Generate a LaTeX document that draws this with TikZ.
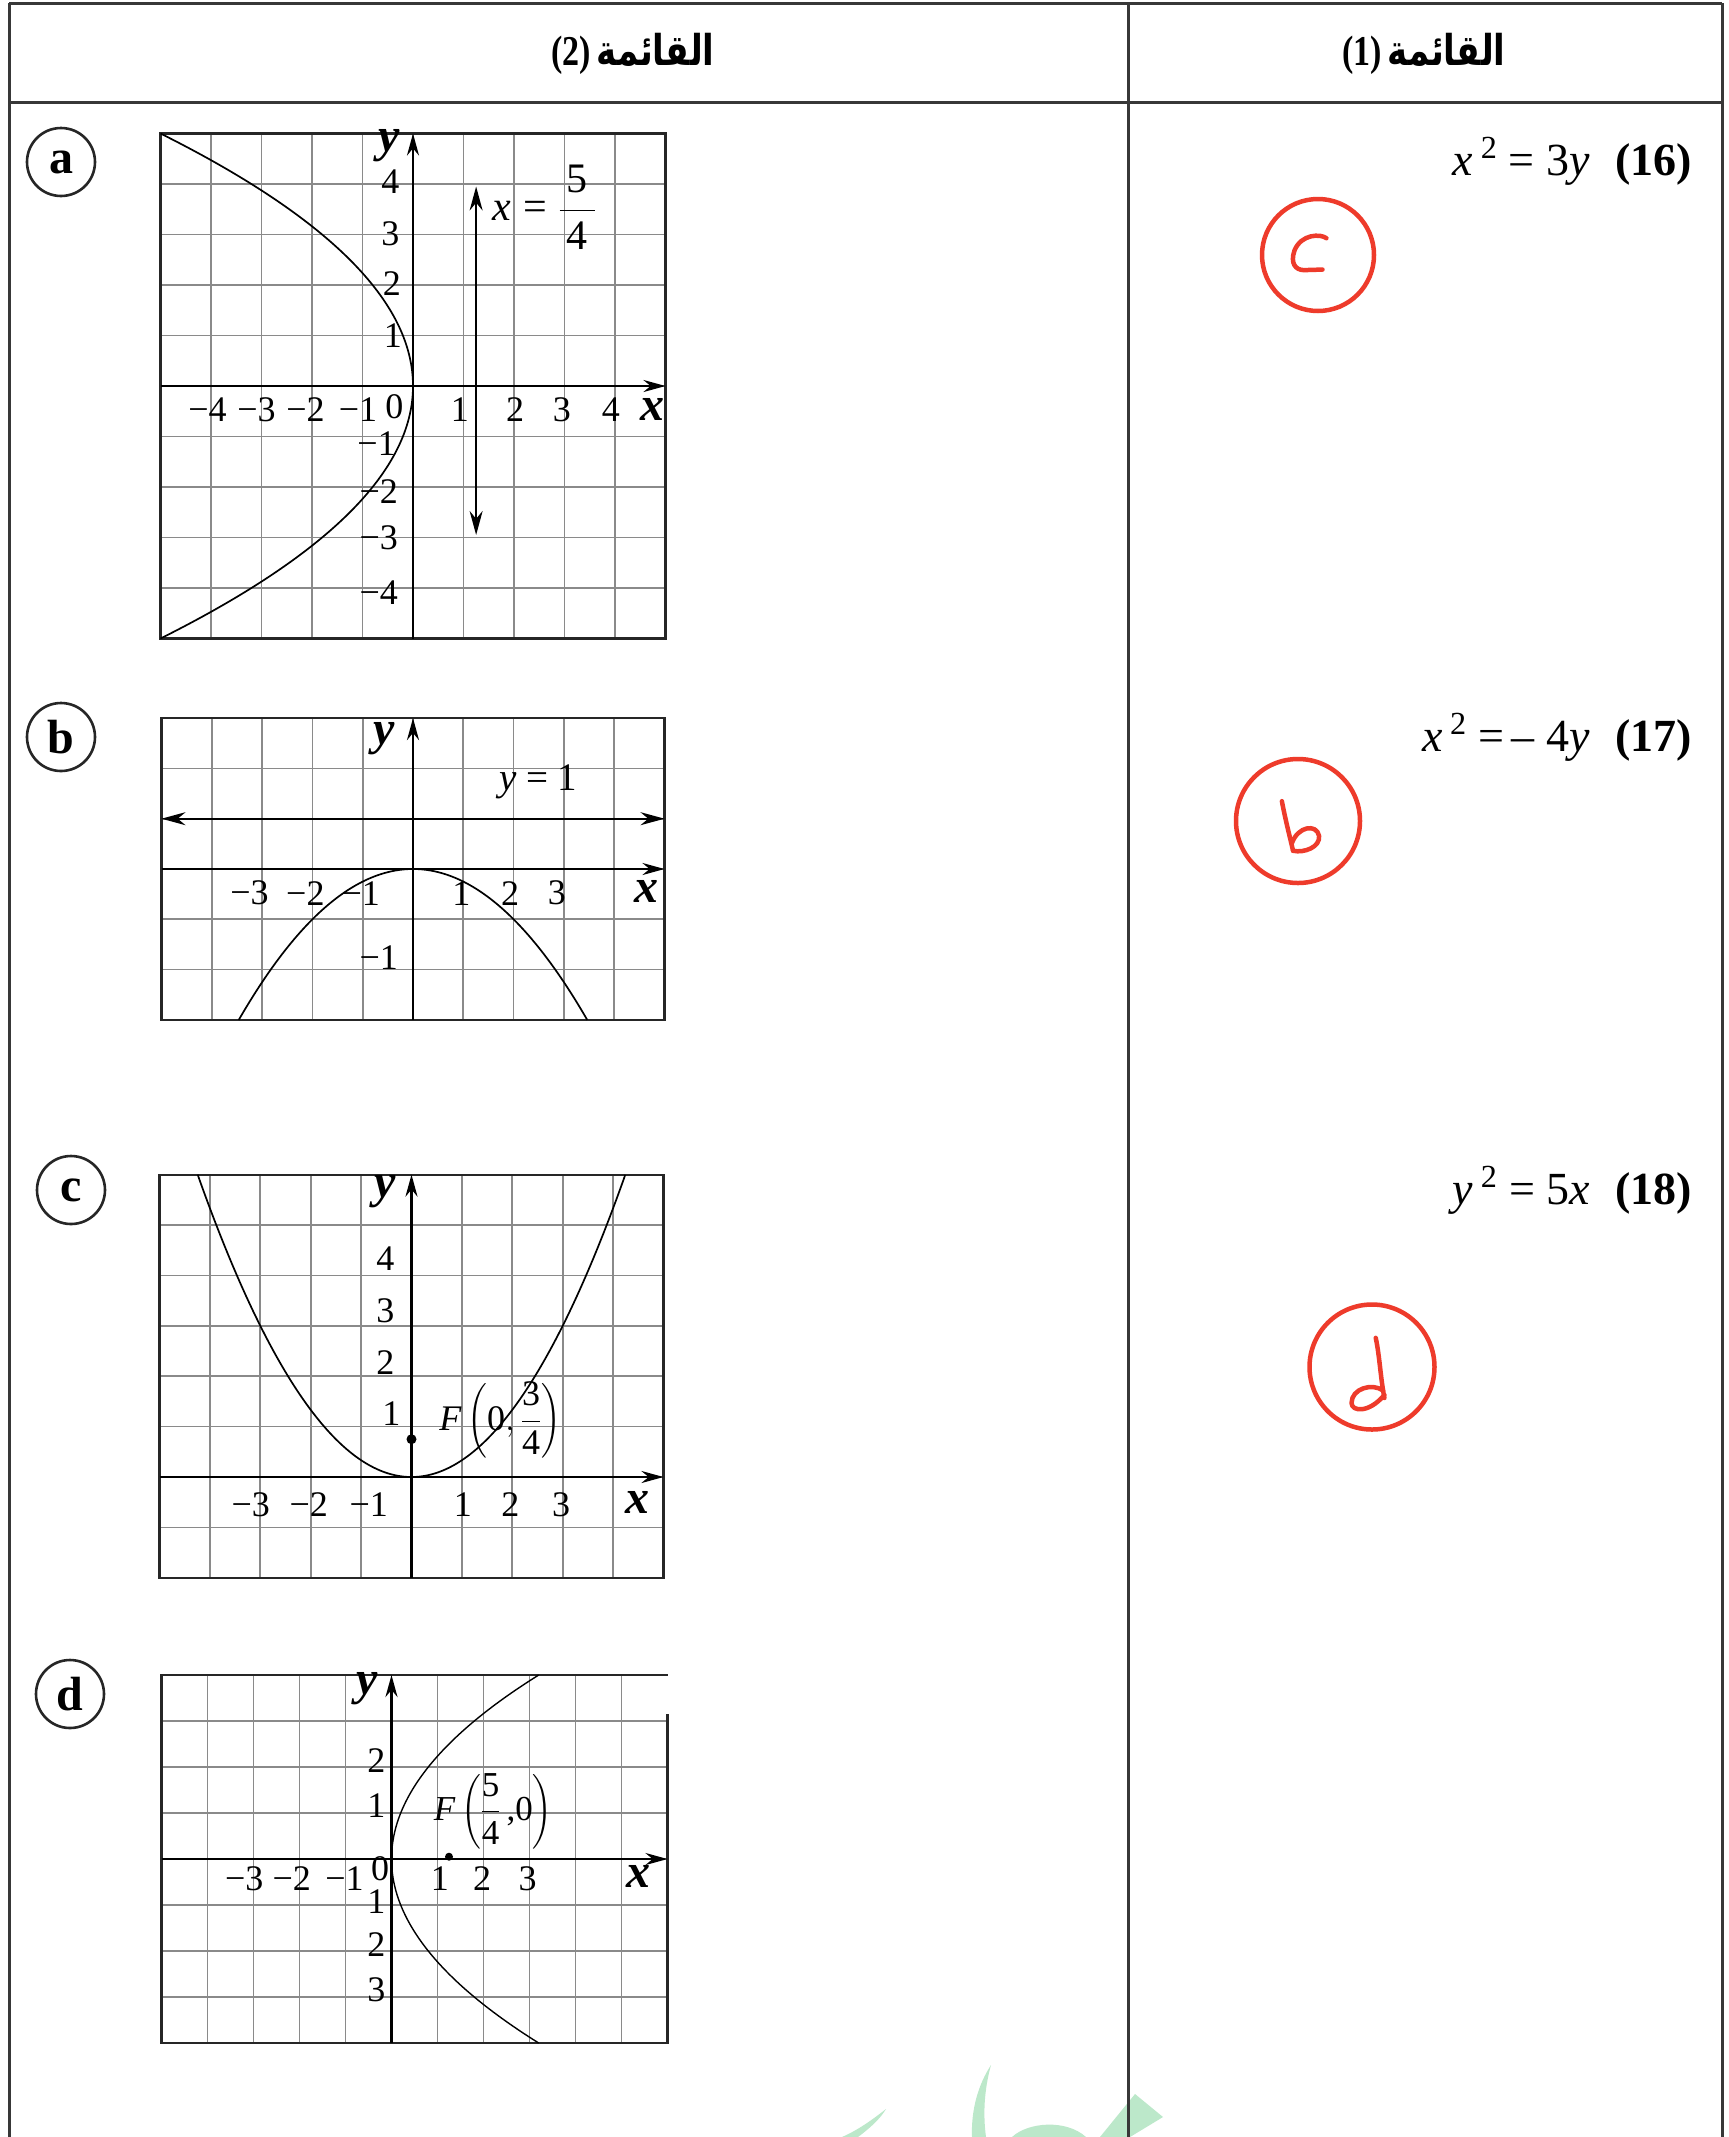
\RequirePackage{fix-cm}
\documentclass[tikz,border=0pt]{standalone}
\usepackage{amsmath}
\usepackage{graphicx}
\usepackage{fontspec}
\setmainfont{Liberation Serif}
\newfontfamily\arabicfont[Script=Arabic]{DejaVu Sans}
\TeXXeTstate=1
\usetikzlibrary{arrows.meta}
\definecolor{gridgray}{HTML}{8A8A8A}
\definecolor{redpen}{HTML}{EE3B2B}
\definecolor{wmgreen}{HTML}{BCE8CA}
\newcommand{\fr}[2]{$\genfrac{}{}{}{0}{\text{\,#1\,}}{\text{\,#2\,}}$}
\tikzset{
  tablerule/.style={line width=3pt, draw=black!78},
  gridline/.style={line width=1.7pt, draw=gridgray},
  gridborder/.style={line width=2.2pt, draw=black!85},
  axisline/.style={line width=2.6pt, draw=black, -{Stealth[length=22pt,width=12pt]}},
  curveline/.style={line width=1.7pt, draw=black},
  ticklab/.style={font=\fontsize{36}{40}\selectfont, inner sep=0pt},
  axislab/.style={font=\fontsize{48}{52}\selectfont\bfseries\itshape, inner sep=0pt},
  itemcircle/.style={circle, draw=black!85, line width=2.6pt, minimum size=68pt, inner sep=0pt, font=\fontsize{48}{52}\selectfont\bfseries},
  eqlab/.style={font=\fontsize{46}{50}\selectfont, anchor=east, inner sep=0pt},
  headlab/.style={font=\fontsize{34}{40}\selectfont\bfseries, inner sep=0pt},
  redring/.style={circle, draw=redpen, line width=4.5pt, inner sep=0pt},
  pen/.style={draw=redpen, line width=4.5pt, line cap=round, line join=round},
  dirarrow/.style={line width=2pt, {Stealth[length=24pt,width=13pt]}-{Stealth[length=24pt,width=13pt]}},
  focusdot/.style={circle, fill=black, inner sep=0pt, minimum size=10pt},
}
\begin{document}
\begin{tikzpicture}[x=1pt,y=1pt]
\useasboundingbox (0,-2137) rectangle (1729,0);
\fill[white] (0,-2137) rectangle (1729,0);

% ---------- watermark ----------
\fill[wmgreen] (886,-2109) .. controls (872,-2120) and (858,-2130) .. (842,-2137) -- (858,-2137) .. controls (870,-2128) and (880,-2119) .. (886,-2109) -- cycle;
\fill[wmgreen] (991,-2065) .. controls (984,-2090) and (983,-2115) .. (986,-2137) -- (972,-2137) .. controls (971,-2110) and (978,-2085) .. (991,-2065) -- cycle;
\fill[wmgreen] (1012,-2137) .. controls (1028,-2122) and (1066,-2119) .. (1086,-2137) -- cycle;
\fill[wmgreen] (1135,-2094) -- (1163,-2117) -- (1130,-2137) -- (1100,-2137) -- cycle;

% ---------- table ----------
\draw[tablerule] (9,-3) -- (1722,-3);
\draw[tablerule] (9,-102) -- (1722,-102);
\draw[tablerule] (9,-3) -- (9,-2137);
\draw[tablerule] (1128,-3) -- (1128,-2137);
\draw[tablerule] (1722,-3) -- (1722,-2137);

\node[headlab] (head2) at (633,-54) {\scalebox{1}[1.25]{(2)\,{\arabicfont\bfseries\beginR القائمة\endR}}};
\node[headlab] (head1) at (1424,-54) {\scalebox{1}[1.25]{(1)\,{\arabicfont\bfseries\beginR القائمة\endR}}};

% ---------- item circles ----------
\node[itemcircle] (ca) at (61,-162) {a};
\node[itemcircle] (cb) at (61,-737) {b};
\node[itemcircle] (cc) at (71,-1190) {c};
\node[itemcircle] (cd) at (70,-1694) {d};

% ---------- equations ----------
\node[eqlab] (eq16) at (1692,-161) {\textit{x}\,\textsuperscript{2} = 3\textit{y}\hspace{0.55em}\textbf{(16)}};
\node[eqlab] (eq17) at (1692,-737) {\textit{x}\,\textsuperscript{2} =\,– 4\textit{y}\hspace{0.55em}\textbf{(17)}};
\node[eqlab] (eq18) at (1692,-1190) {\textit{y}\,\textsuperscript{2} = 5\textit{x}\hspace{0.55em}\textbf{(18)}};

% ---------- red answers ----------
\node[redring, minimum size=112pt] (ring16) at (1318,-255) {};
\begin{scope}[shift={(1318pt,-255pt)}, x=56pt, y=56pt]
  \draw[pen] (0.15,0.30) .. controls (0.05,0.38) and (-0.3,0.38) .. (-0.42,0.08) .. controls (-0.5,-0.15) and (-0.4,-0.27) .. (-0.25,-0.27) -- (0.08,-0.26);
\end{scope}
\node[redring, minimum size=124pt] (ring17) at (1298,-821) {};
\begin{scope}[shift={(1298pt,-821pt)}, x=62pt, y=62pt]
  \draw[pen] (-0.26,0.32) .. controls (-0.2,0.0) and (-0.12,-0.3) .. (-0.08,-0.48);
  \draw[pen] (-0.1,-0.36) .. controls (0.0,-0.08) and (0.3,-0.04) .. (0.34,-0.24) .. controls (0.36,-0.42) and (0.1,-0.52) .. (-0.08,-0.48);
\end{scope}
\node[redring, minimum size=125pt] (ring18) at (1372,-1367) {};
\begin{scope}[shift={(1372pt,-1367pt)}, x=62pt, y=62pt]
  \draw[pen] (0.06,0.47) .. controls (0.12,0.2) and (0.14,-0.2) .. (0.2,-0.5);
  \draw[pen] (0.18,-0.38) .. controls (0.0,-0.25) and (-0.33,-0.35) .. (-0.33,-0.58) .. controls (-0.33,-0.72) and (-0.05,-0.75) .. (0.2,-0.45);
\end{scope}

% ---------- graph a : y^2 = -5x ----------
\begin{scope}[shift={(413pt,-386pt)}, x=50.5pt, y=50.5pt]
  \foreach \i in {-4,...,4} \draw[gridline] (\i,-5) -- (\i,5);
  \foreach \j in {-4,...,4} \draw[gridline] (-5,\j) -- (5,\j);
  \draw[gridborder] (-5,-5) rectangle (5,5);
  \draw[axisline] (-5,0) -- (5,0);
  \draw[axisline] (0,-5) -- (0,5);
  \draw[curveline] plot[domain=-5:5, samples=120, smooth] ({-\x*\x/5}, \x);
  \draw[dirarrow] (1.25,-2.95) -- (1.25,3.95);
  \node[ticklab, font=\fontsize{42}{46}\selectfont] (adir) at (2.6,3.54) {\textit{x}\;=\;\fr{5}{4}};
  \node[axislab] (ay) at (-0.48,4.75) {y};
  \node[axislab] (ax) at (4.74,-0.47) {x};
  \node[ticklab] (ax1) at (-4.07,-0.47) {−4};
  \node[ticklab] (ax2) at (-3.10,-0.47) {−3};
  \node[ticklab] (ax3) at (-2.13,-0.47) {−2};
  \node[ticklab] (ax4) at (-1.09,-0.47) {−1};
  \node[ticklab] (ax5) at (-0.37,-0.40) {0};
  \node[ticklab] (ax6) at (0.93,-0.47) {1};
  \node[ticklab] (ax7) at (2.02,-0.47) {2};
  \node[ticklab] (ax8) at (2.95,-0.47) {3};
  \node[ticklab] (ax9) at (3.92,-0.47) {4};
  \node[ticklab] (ay1) at (-0.45,4.04) {4};
  \node[ticklab] (ay2) at (-0.45,3.01) {3};
  \node[ticklab] (ay3) at (-0.42,2.03) {2};
  \node[ticklab] (ay4) at (-0.40,1.0) {1};
  \node[ticklab] (ay5) at (-0.72,-1.15) {−1};
  \node[ticklab] (ay6) at (-0.68,-2.09) {−2};
  \node[ticklab] (ay7) at (-0.68,-3.0) {−3};
  \node[ticklab] (ay8) at (-0.68,-4.09) {−4};
\end{scope}

% ---------- graph b : x^2 = -4y ----------
\begin{scope}[shift={(413pt,-869pt)}, x=50.3pt, y=50.3pt]
  \foreach \i in {-4,...,4} \draw[gridline] (\i,-3) -- (\i,3);
  \foreach \j in {-2,...,2} \draw[gridline] (-5,\j) -- (5,\j);
  \draw[gridborder] (-5,-3) rectangle (5,3);
  \draw[axisline] (-5,0) -- (5,0);
  \draw[axisline] (0,-3) -- (0,3);
  \draw[dirarrow] (-5,1) -- (5,1);
  \draw[curveline] plot[domain=-3.464:3.464, samples=120, smooth] (\x, {-\x*\x/4});
  \node[ticklab, font=\fontsize{39}{43}\selectfont] (bdir) at (2.49,1.73) {\textit{y} = 1};
  \node[axislab] (by) at (-0.57,2.6) {y};
  \node[axislab] (bx) at (4.65,-0.45) {x};
  \node[ticklab] (bx1) at (-3.25,-0.48) {−3};
  \node[ticklab] (bx2) at (-2.14,-0.48) {−2};
  \node[ticklab] (bx3) at (-1.04,-0.48) {−1};
  \node[ticklab] (bx4) at (0.96,-0.48) {1};
  \node[ticklab] (bx5) at (1.93,-0.48) {2};
  \node[ticklab] (bx6) at (2.86,-0.48) {3};
  \node[ticklab] (by1) at (-0.68,-1.76) {−1};
\end{scope}

% ---------- graph c : x^2 = 3y ----------
\begin{scope}[shift={(411.5pt,-1477pt)}, x=50.4pt, y=50.4pt]
  \foreach \i in {-4,...,4} \draw[gridline] (\i,-2) -- (\i,6);
  \foreach \j in {-1,...,5} \draw[gridline] (-5,\j) -- (5,\j);
  \draw[gridborder] (-5,-2) rectangle (5,6);
  \draw[axisline] (-5,0) -- (5,0);
  \draw[axisline] (0,-2) -- (0,6);
  \draw[curveline] plot[domain=-4.2426:4.2426, samples=120, smooth] (\x, {\x*\x/3});
  \node[focusdot] (cf) at (0,0.75) {};
  \node[ticklab, font=\fontsize{36}{40}\selectfont] (cflab) at (1.76,1.13) {$\textit{F}\left(\text{0},\genfrac{}{}{}{0}{\text{3}}{\text{4}}\right)$};
  \node[axislab] (cy) at (-0.52,5.67) {y};
  \node[axislab] (cx) at (4.49,-0.51) {x};
  \node[ticklab] (cx1) at (-3.19,-0.55) {−3};
  \node[ticklab] (cx2) at (-2.04,-0.55) {−2};
  \node[ticklab] (cx3) at (-0.85,-0.55) {−1};
  \node[ticklab] (cx4) at (1.02,-0.55) {1};
  \node[ticklab] (cx5) at (1.96,-0.55) {2};
  \node[ticklab] (cx6) at (2.97,-0.55) {3};
  \node[ticklab] (cy1) at (-0.52,4.34) {4};
  \node[ticklab] (cy2) at (-0.52,3.29) {3};
  \node[ticklab] (cy3) at (-0.52,2.28) {2};
  \node[ticklab] (cy4) at (-0.40,1.26) {1};
\end{scope}

% ---------- graph d : y^2 = 5x ----------
\begin{scope}[shift={(391.5pt,-1859pt)}, x=46pt, y=46pt]
  \foreach \i in {-4,...,5} \draw[gridline] (\i,-4) -- (\i,4);
  \foreach \j in {-3,...,3} \draw[gridline] (-5,\j) -- (6,\j);
  \draw[gridborder] (6,3.15) -- (6,-4) -- (-5,-4) -- (-5,4) -- (6,4);
  \draw[axisline] (-5,0) -- (6,0);
  \draw[axisline] (0,-4) -- (0,4);
  \draw[curveline, line width=1.4pt] plot[domain=-4:4, samples=120, smooth] ({\x*\x/5}, \x);
  \node[focusdot, minimum size=8pt] (df) at (1.25,0.05) {};
  \node[ticklab, font=\fontsize{35}{39}\selectfont] (dflab) at (2.21,1.03) {$\textit{F}\left(\genfrac{}{}{}{0}{\text{5}}{\text{4}}\,\text{,0}\right)$};
  \node[axislab] (dy) at (-0.52,3.71) {y};
  \node[axislab] (dx) at (5.37,-0.38) {x};
  \node[ticklab] (dx1) at (-3.2,-0.42) {−3};
  \node[ticklab] (dx2) at (-2.17,-0.42) {−2};
  \node[ticklab] (dx3) at (-1.02,-0.42) {−1};
  \node[ticklab] (dx0) at (-0.25,-0.22) {0};
  \node[ticklab] (dx4) at (1.05,-0.42) {1};
  \node[ticklab] (dx5) at (1.97,-0.42) {2};
  \node[ticklab] (dx6) at (2.96,-0.42) {3};
  \node[ticklab] (dy1) at (-0.33,2.15) {2};
  \node[ticklab] (dy2) at (-0.33,1.17) {1};
  \node[ticklab] (dy3) at (-0.33,-0.92) {1};
  \node[ticklab] (dy4) at (-0.33,-1.87) {2};
  \node[ticklab] (dy5) at (-0.33,-2.85) {3};
\end{scope}
\end{tikzpicture}
\end{document}
